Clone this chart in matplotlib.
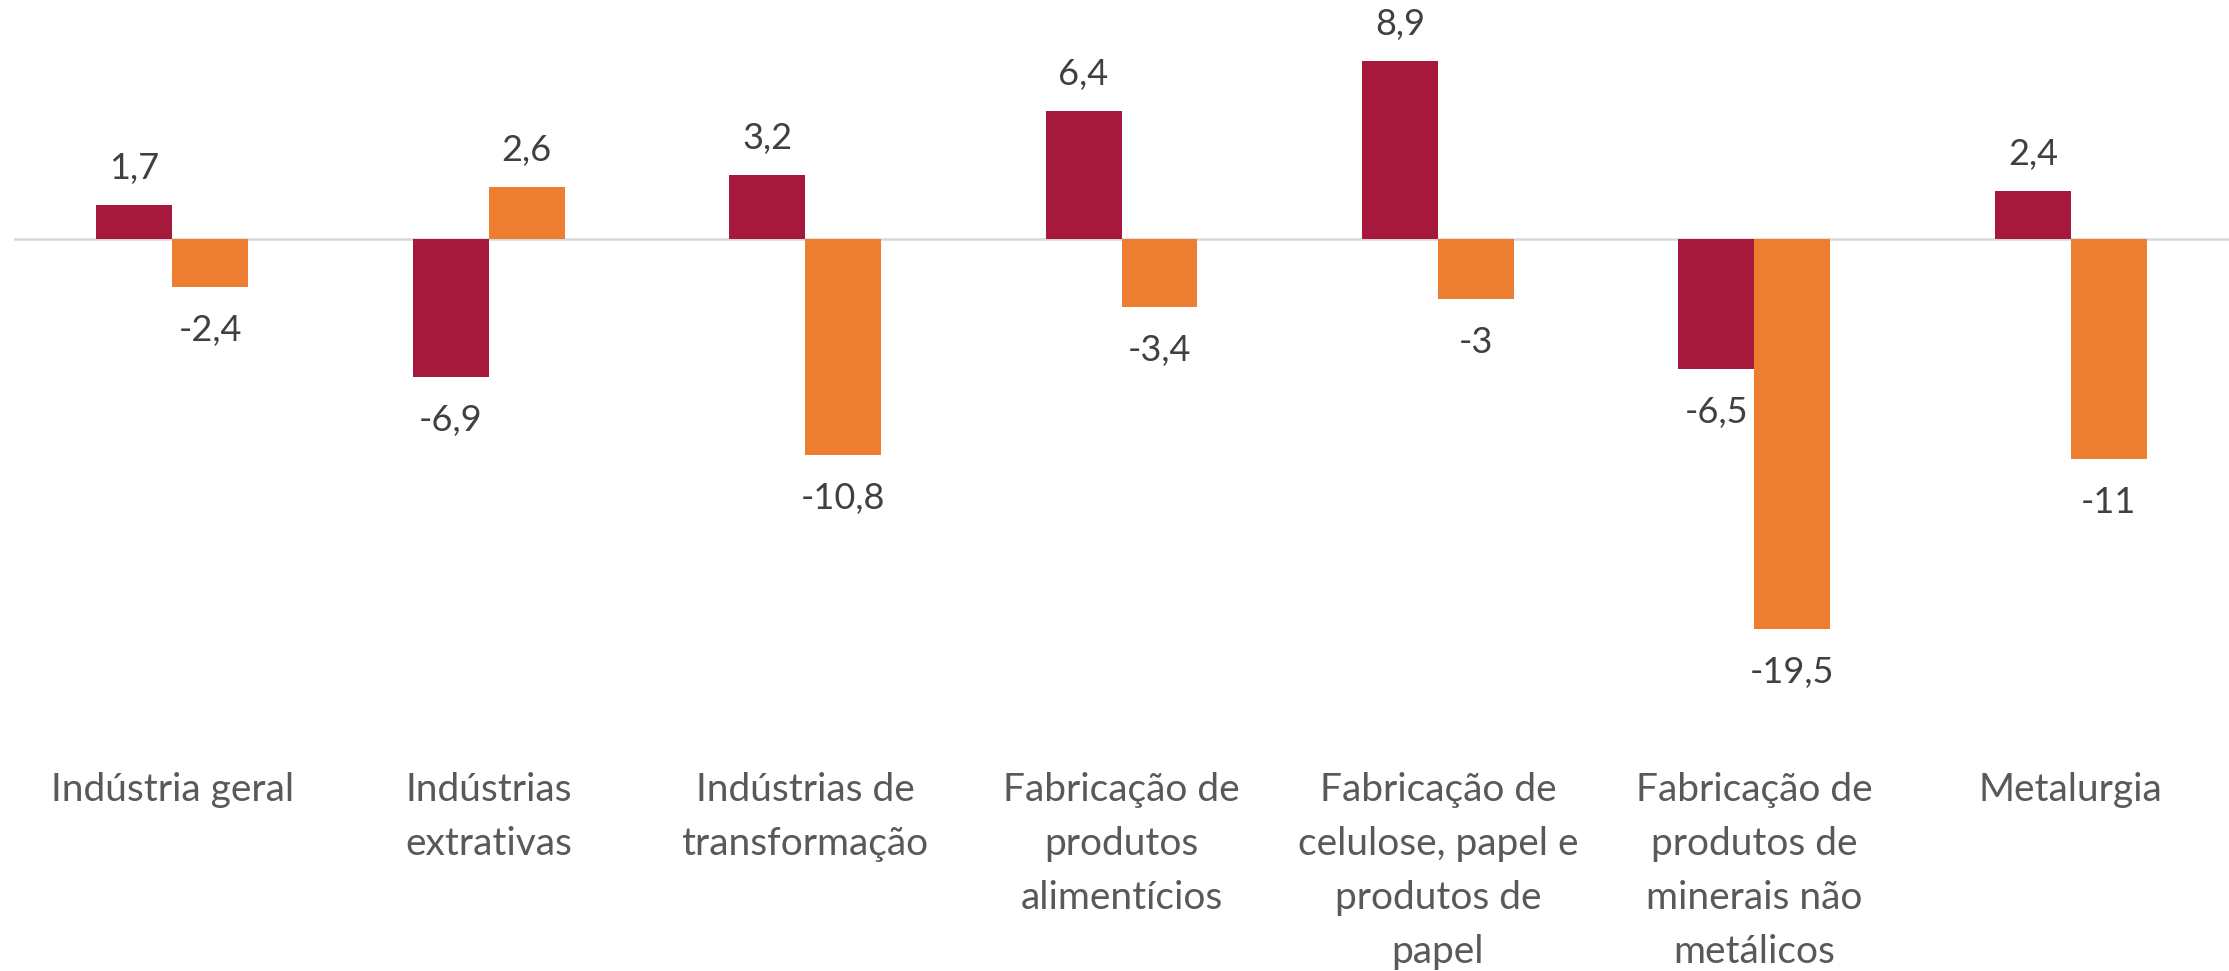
import numpy as np
import matplotlib
matplotlib.use("Agg")
from matplotlib import pyplot as plt

categorias = ["Indústria geral",
              "Indústrias\nextrativas",
              "Indústrias de\ntransformação",
              "Fabricação de\nprodutos\nalimentícios",
              "Fabricação de\ncelulose, papel e\nprodutos de\npapel",
              "Fabricação de\nprodutos de\nminerais não\nmetálicos",
              "Metalurgia"]
serie_vermelha = [1.7, -6.9, 3.2, 6.4, 8.9, -6.5, 2.4]
serie_laranja = [-2.4, 2.6, -10.8, -3.4, -3, -19.5, -11]

plt.rcParams['font.family'] = ['Lato', 'DejaVu Sans']

fig = plt.figure(figsize=(22.29, 9.71), dpi=100)
ax = fig.add_axes([14 / 2229, 1 - 739 / 971, 1 - 14 / 2229, 700 / 971])

x = np.arange(len(categorias))
w = 0.24
b1 = ax.bar(x - w / 2, serie_vermelha, w, color="#A6193C", zorder=2)
b2 = ax.bar(x + w / 2, serie_laranja, w, color="#ED7D31", zorder=2)

ax.axhline(0, color="#D9D9D9", lw=1.8, zorder=1)
ax.set_xlim(-0.5, len(categorias) - 0.5)
ax.set_ylim(-25, 10)


def rotulo(v):
    return f"{v:g}".replace(".", ",")


for bars, vals in [(b1, serie_vermelha), (b2, serie_laranja)]:
    for r, v in zip(bars, vals):
        off = 26.5 if v >= 0 else -31
        ax.annotate(rotulo(v), (r.get_x() + r.get_width() / 2, v),
                    xytext=(0, off), textcoords="offset points",
                    ha="center", va="center", fontsize=26, color="#404040")

ax.set_xticks(x)
ax.set_xticklabels(categorias, fontsize=28, color="#595959", linespacing=1.62)
ax.tick_params(axis="x", length=0, pad=24)
ax.set_yticks([])
for s in ax.spines.values():
    s.set_visible(False)

fig.savefig("out.png", dpi=100, facecolor="white")
